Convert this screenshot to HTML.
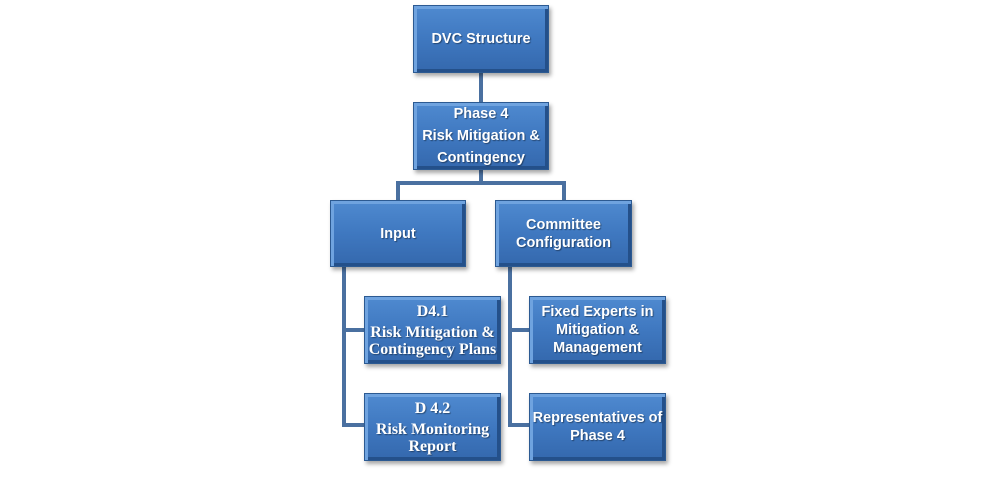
<!DOCTYPE html>
<html><head><style>
body{margin:0;width:995px;height:480px;background:#fff;position:relative;overflow:hidden}
.b{position:absolute;box-sizing:border-box;display:flex;flex-direction:column;align-items:center;justify-content:center;text-align:center;color:#fff;font-family:"Liberation Sans",sans-serif;font-weight:bold;font-size:14.5px;line-height:18px;
background:linear-gradient(#4f8ad0,#3f78c0 50%,#3468ad);
border:1px solid #2c5a92;
box-shadow:inset 3px 3px 0 #6fa3df,inset -3px -3px 0 #24508a,2px 3px 4px rgba(0,0,0,.35);
text-shadow:1px 1px 1px rgba(0,0,0,.4)}
.s{font-family:"Liberation Serif",serif;font-size:16px;line-height:17px}
.l{position:absolute;background:#4a70a0}
</style></head><body>
<div class="l" style="left:479px;top:73px;width:4px;height:29px"></div>
<div class="l" style="left:479px;top:170px;width:4px;height:14px"></div>
<div class="l" style="left:396px;top:181px;width:170px;height:4px"></div>
<div class="l" style="left:396px;top:181px;width:4px;height:20px"></div>
<div class="l" style="left:562px;top:181px;width:4px;height:20px"></div>
<div class="l" style="left:342px;top:267px;width:4px;height:160px"></div>
<div class="l" style="left:342px;top:328px;width:24px;height:4px"></div>
<div class="l" style="left:342px;top:423px;width:24px;height:4px"></div>
<div class="l" style="left:508px;top:267px;width:4px;height:160px"></div>
<div class="l" style="left:508px;top:328px;width:24px;height:4px"></div>
<div class="l" style="left:508px;top:423px;width:24px;height:4px"></div>

<div class="b" style="left:413px;top:5px;width:136px;height:68px">DVC Structure</div>
<div class="b" style="left:413px;top:102px;width:136px;height:68px;line-height:22px">Phase 4<br>Risk Mitigation &amp;<br>Contingency</div>
<div class="b" style="left:330px;top:200px;width:136px;height:67px">Input</div>
<div class="b" style="left:495px;top:200px;width:137px;height:67px">Committee<br>Configuration</div>
<div class="b s" style="left:364px;top:296px;width:137px;height:68px"><span style="margin-bottom:4px">D4.1</span>Risk Mitigation &amp;<br>Contingency Plans</div>
<div class="b" style="left:529px;top:296px;width:137px;height:68px">Fixed Experts in<br>Mitigation &amp;<br>Management</div>
<div class="b s" style="left:364px;top:393px;width:137px;height:68px"><span style="margin-bottom:4px">D 4.2</span>Risk Monitoring<br>Report</div>
<div class="b" style="left:529px;top:393px;width:137px;height:68px">Representatives of<br>Phase 4</div>
</body></html>
